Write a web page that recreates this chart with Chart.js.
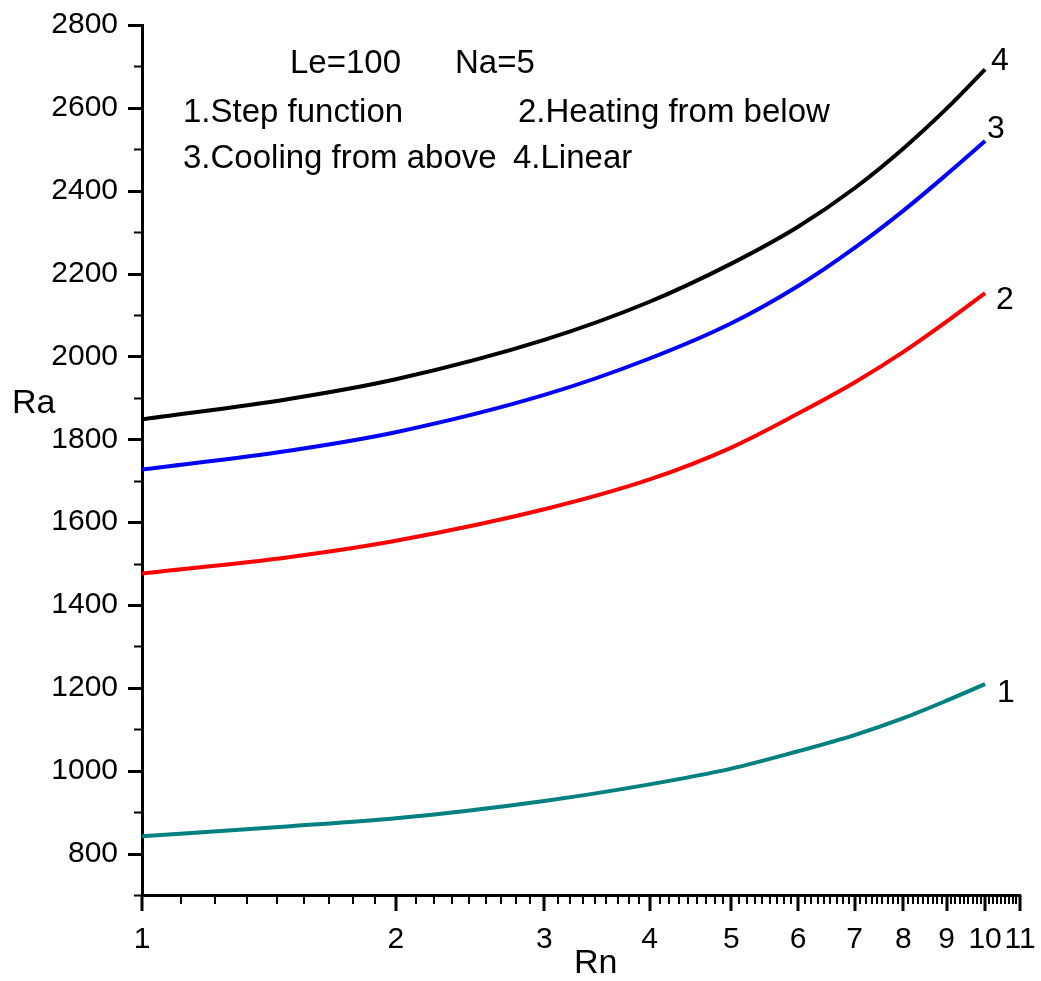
<!DOCTYPE html>
<html>
<head>
<meta charset="utf-8">
<script src="https://cdn.jsdelivr.net/npm/chart.js@4.4.1/dist/chart.umd.min.js"></script>
<style>
  html, body { margin: 0; padding: 0; background: #fff; }
  #wrap { width: 1041px; height: 981px; }
</style>
</head>
<body>
<div id="wrap"><canvas id="myChart" width="1041" height="981"></canvas></div>
<script>
const rn = [1, 1.5, 2, 3, 4, 5, 6, 7, 8, 9, 10];

// Ra for each boundary condition
const stepFunction = [842, 866, 885, 927, 967, 1005, 1047, 1086, 1127, 1169, 1209];
const heatingBelow = [1476, 1516, 1555, 1631, 1703, 1780, 1862, 1937, 2011, 2084, 2153];
const coolingAbove = [1727, 1773, 1817, 1907, 1995, 2080, 2170, 2262, 2352, 2439, 2520];
const linear = [1848, 1898, 1945, 2040, 2132, 2224, 2313, 2406, 2502, 2598, 2693];

const curveLabels = ['1', '2', '3', '4'];
const curveColors = ['#008080', '#ff0000', '#0000ff', '#000000'];

const xTickValues = [1, 2, 3, 4, 5, 6, 7, 8, 9, 10, 11];
const yTickValues = [800, 1000, 1200, 1400, 1600, 1800, 2000, 2200, 2400, 2600, 2800];

const ctx = document.getElementById('myChart');

function toPoints(values) {
  return values.map((v, i) => ({ x: rn[i], y: v }));
}

const series = [stepFunction, heatingBelow, coolingAbove, linear];

const datasets = series.map((values, i) => ({
  label: curveLabels[i],
  data: toPoints(values),
  borderColor: curveColors[i],
  borderWidth: 4,
  pointRadius: 0,
  cubicInterpolationMode: 'monotone',
  fill: false
}));

const tickFont = { family: "'Liberation Sans', Arial, sans-serif", size: 30 };
const textFont = "33px 'Liberation Sans', Arial, sans-serif";

// outward tick marks, major and minor, from the scales
const tickMarks = {
  id: 'tickMarks',
  afterDraw(chart) {
    const c = chart.ctx;
    const xs = chart.scales.x;
    const ys = chart.scales.y;
    const area = chart.chartArea;
    c.save();
    c.strokeStyle = '#000';

    c.lineWidth = 3;
    c.beginPath();
    xTickValues.forEach(v => {
      const px = Math.round(xs.getPixelForValue(v));
      c.moveTo(px, area.bottom);
      c.lineTo(px, area.bottom + 16);
    });
    yTickValues.forEach(v => {
      const py = Math.round(ys.getPixelForValue(v)) + 0.5;
      c.moveTo(area.left, py);
      c.lineTo(area.left - 14, py);
    });
    c.stroke();

    c.lineWidth = 2;
    c.beginPath();
    for (let i = 1; i < 11; i++) {
      for (let k = 1; k < 9; k++) {
        const px = Math.round(xs.getPixelForValue(i + k / 9));
        c.moveTo(px, area.bottom);
        c.lineTo(px, area.bottom + 9);
      }
    }
    for (let v = 700; v < 2800; v += 200) {
      const py = Math.round(ys.getPixelForValue(v)) + 0.5;
      c.moveTo(area.left, py);
      c.lineTo(area.left - 8, py);
    }
    c.stroke();
    c.restore();
  }
};

// titles, notes and curve numbers
const notes = {
  id: 'notes',
  afterDraw(chart) {
    const c = chart.ctx;
    c.save();
    c.fillStyle = '#000';
    c.textBaseline = 'alphabetic';
    c.textAlign = 'left';
    c.font = textFont;
    c.fillText('Le=100', 290, 73);
    c.fillText('Na=5', 455, 73);
    c.fillText('1.Step function', 183, 122);
    c.fillText('2.Heating from below', 518, 122);
    c.fillText('3.Cooling from above', 183, 168);
    c.fillText('4.Linear', 513, 168);

    c.font = "34px 'Liberation Sans', Arial, sans-serif";
    c.fillText('Ra', 12, 413);
    c.fillText('Rn', 574, 973);

    // numbers next to curve ends
    const offsets = [[12, 18], [11, 16], [2, -3], [6, 1]];
    c.font = "32px 'Liberation Sans', Arial, sans-serif";
    chart.data.datasets.forEach((ds, i) => {
      const meta = chart.getDatasetMeta(i);
      const last = meta.data[meta.data.length - 1];
      c.fillText(ds.label, last.x + offsets[i][0], last.y + offsets[i][1]);
    });
    c.restore();
  }
};

new Chart(ctx, {
  type: 'line',
  data: { datasets: datasets },
  options: {
    responsive: false,
    animation: false,
    devicePixelRatio: 1,
    layout: { padding: { top: 25, right: 21, left: 0, bottom: 0 } },
    plugins: {
      legend: { display: false },
      tooltip: { enabled: false }
    },
    scales: {
      x: {
        type: 'logarithmic',
        min: 1,
        max: 11,
        afterBuildTicks: scale => { scale.ticks = xTickValues.map(v => ({ value: v })); },
        afterFit: scale => {
          scale.height = 86;
          scale.paddingLeft = 0;
          scale.paddingRight = 0;
        },
        grid: { display: false, drawTicks: false },
        border: { display: true, color: '#000', width: 3 },
        ticks: {
          autoSkip: false,
          maxRotation: 0,
          padding: 27,
          color: '#000',
          font: tickFont,
          callback: value => String(value)
        }
      },
      y: {
        type: 'linear',
        min: 700,
        max: 2800,
        afterBuildTicks: scale => { scale.ticks = yTickValues.map(v => ({ value: v })); },
        afterFit: scale => {
          scale.width = 142;
          scale.paddingTop = 0;
          scale.paddingBottom = 0;
        },
        grid: { display: false, drawTicks: false },
        border: { display: true, color: '#000', width: 3 },
        ticks: {
          padding: 24,
          color: '#000',
          font: tickFont,
          callback: value => String(value)
        }
      }
    }
  },
  plugins: [tickMarks, notes]
});
</script>
</body>
</html>
